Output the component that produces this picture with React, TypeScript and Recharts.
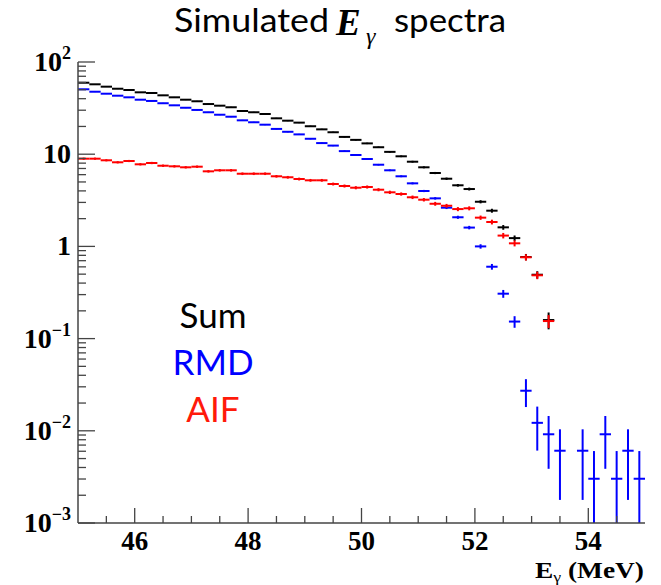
import React from "react";
import { ScatterChart, Scatter, XAxis, YAxis, ErrorBar } from "recharts";

// bin centres (0.2 MeV bins from 45 to 55)
const binCenters = [
  45.1, 45.3, 45.5, 45.7, 45.9, 46.1, 46.3, 46.5, 46.7, 46.9,
  47.1, 47.3, 47.5, 47.7, 47.9, 48.1, 48.3, 48.5, 48.7, 48.9,
  49.1, 49.3, 49.5, 49.7, 49.9, 50.1, 50.3, 50.5, 50.7, 50.9,
  51.1, 51.3, 51.5, 51.7, 51.9, 52.1, 52.3, 52.5, 52.7, 52.9,
  53.1, 53.3, 53.5, 53.7, 53.9, 54.1, 54.3, 54.5, 54.7, 54.9,
];
const binHalfWidth = 0.1;

// Sum
const sumValues = [
  59.6, 57.3, 54.0, 51.3, 49.7, 46.9, 46.1, 43.5, 41.4, 39.0,
  37.5, 35.0, 33.6, 32.3, 29.4, 28.5, 27.3, 24.5, 23.1, 22.0,
  20.1, 18.6, 17.3, 15.4, 14.3, 13.1, 11.9, 10.6, 9.49, 8.29,
  7.21, 6.25, 5.42, 4.6, 4.19, 3.05, 2.44, 1.61, 1.23, 0.767,
  0.493, 0.159,
];
const sumErrors = [
  0.46, 0.45, 0.44, 0.43, 0.42, 0.4, 0.41, 0.4, 0.39, 0.37,
  0.37, 0.35, 0.36, 0.35, 0.34, 0.33, 0.32, 0.31, 0.3, 0.29,
  0.28, 0.27, 0.25, 0.25, 0.24, 0.23, 0.22, 0.21, 0.2, 0.19,
  0.18, 0.17, 0.16, 0.15, 0.15, 0.12, 0.12, 0.095, 0.083, 0.061,
  0.045, 0.033,
];

// RMD
const rmdValues = [
  50.6, 47.6, 45.3, 43.1, 41.4, 39.0, 37.8, 35.7, 33.9, 31.9,
  30.2, 28.5, 26.8, 25.5, 23.3, 22.2, 20.9, 18.8, 17.5, 16.4,
  14.7, 13.2, 12.4, 10.8, 9.8, 8.87, 7.69, 6.69, 5.76, 4.83,
  3.99, 3.32, 2.63, 2.07, 1.6, 1.0, 0.602, 0.307, 0.153, 0.0272,
  0.0122, 0.00917, 0.00608, 0, 0.00608, 0.00302, 0.00917, 0.00302, 0.00608, 0.00302,
];
const rmdErrors = [
  0.39, 0.38, 0.37, 0.36, 0.35, 0.34, 0.34, 0.33, 0.32, 0.31,
  0.3, 0.29, 0.29, 0.28, 0.27, 0.26, 0.25, 0.24, 0.23, 0.22,
  0.21, 0.2, 0.19, 0.18, 0.17, 0.16, 0.15, 0.14, 0.13, 0.12,
  0.11, 0.1, 0.09, 0.08, 0.07, 0.055, 0.043, 0.03, 0.022, 0.0091,
  0.0061, 0.0053, 0.0043, 0, 0.0043, 0.00301, 0.0053, 0.00301, 0.0043, 0.00301,
];

// AIF
const aifValues = [
  8.94, 8.94, 8.59, 8.17, 8.44, 7.77, 8.03, 7.5, 7.39, 7.21,
  7.32, 6.52, 6.69, 6.69, 6.14, 6.14, 6.14, 5.76, 5.62, 5.38,
  5.21, 5.21, 4.75, 4.52, 4.33, 4.41, 4.12, 3.86, 3.7, 3.41,
  3.21, 2.9, 2.76, 2.54, 2.59, 2.05, 1.84, 1.31, 1.08, 0.762,
  0.486, 0.155,
];
const aifErrors = [
  0.24, 0.24, 0.23, 0.23, 0.23, 0.22, 0.23, 0.22, 0.22, 0.21,
  0.22, 0.2, 0.21, 0.21, 0.2, 0.2, 0.2, 0.19, 0.19, 0.19,
  0.18, 0.18, 0.17, 0.17, 0.17, 0.17, 0.16, 0.16, 0.15, 0.15,
  0.14, 0.14, 0.13, 0.13, 0.13, 0.11, 0.11, 0.09, 0.08, 0.06,
  0.045, 0.025,
];

const xTicks = [
  45.5, 46, 46.5, 47, 47.5, 48, 48.5, 49, 49.5, 50,
  50.5, 51, 51.5, 52, 52.5, 53, 53.5, 54, 54.5,
];
const xLabels = [46, 48, 50, 52, 54];
const yTicks = [
  0.001, 0.002, 0.003, 0.004, 0.005, 0.006, 0.007, 0.008, 0.009,
  0.01, 0.02, 0.03, 0.04, 0.05, 0.06, 0.07, 0.08, 0.09,
  0.1, 0.2, 0.3, 0.4, 0.5, 0.6, 0.7, 0.8, 0.9,
  1, 2, 3, 4, 5, 6, 7, 8, 9,
  10, 20, 30, 40, 50, 60, 70, 80, 90, 100,
];
const yMin = 0.001;
const yMax = 100;

const legendItems = [
  { name: "Sum", color: "#000000" },
  { name: "RMD", color: "#0000ff" },
  { name: "AIF", color: "#ff1a0a" },
];

const serif = "'Liberation Serif', 'Times New Roman', serif";
const sans = "Lato, 'Open Sans', sans-serif";
const frame = "#444";

// error bars that would run below the axis are cut at the frame
function buildSeries(values: number[], errors: number[]) {
  return values
    .map((v, i) => ({
      x: binCenters[i],
      y: v,
      ex: binHalfWidth,
      ey: [Math.min(errors[i], v - yMin), errors[i]],
    }))
    .filter((d) => d.y > 0);
}

const isDecade = (v: number) => {
  const l = Math.log10(v);
  return Math.abs(l - Math.round(l)) < 1e-9;
};

const BottomTick = (props: any) => {
  const { x, y, payload } = props;
  const v = payload.value;
  const major = xLabels.includes(v);
  const axisY = y - 10;
  return (
    <g>
      <line x1={x} x2={x} y1={axisY} y2={axisY - (major ? 15 : 7)} stroke={frame} strokeWidth={1.3} />
      {major && (
        <text x={x} y={axisY + 27} textAnchor="middle" fontFamily={serif} fontWeight="bold" fontSize={27} fill="#000">
          {v}
        </text>
      )}
    </g>
  );
};

const TopTick = (props: any) => {
  const { x, y, payload } = props;
  const major = xLabels.includes(payload.value);
  return <line x1={x} x2={x} y1={y} y2={y + (major ? 14 : 7)} stroke={frame} strokeWidth={1.3} />;
};

const LeftTick = (props: any) => {
  const { x, y, payload } = props;
  const v = payload.value;
  const major = isDecade(v);
  const axisX = x + 7;
  const exp = Math.round(Math.log10(v));
  let label: React.ReactNode = null;
  if (major) {
    if (exp === 0) label = "1";
    else if (exp === 1) label = "10";
    else
      label = (
        <>
          10
          <tspan dy={-12} fontSize={18}>
            {exp < 0 ? "\u2212" + -exp : exp}
          </tspan>
        </>
      );
  }
  return (
    <g>
      <line x1={axisX} x2={axisX + (major ? 17 : 8)} y1={y} y2={y} stroke={frame} strokeWidth={1.3} />
      {major && (
        <text x={x} y={y + 9} textAnchor="end" fontFamily={serif} fontWeight="bold" fontSize={28} fill="#000">
          {label}
        </text>
      )}
    </g>
  );
};

const RightTick = (props: any) => {
  const { x, y, payload } = props;
  const major = isDecade(payload.value);
  return <line x1={x} x2={x - (major ? 18 : 9)} y1={y} y2={y} stroke={frame} strokeWidth={1.3} />;
};

const hidden = () => <g />;

export default function App() {
  const series = [
    { key: "sum", data: buildSeries(sumValues, sumErrors), color: "#000000" },
    { key: "rmd", data: buildSeries(rmdValues, rmdErrors), color: "#0000ff" },
    { key: "aif", data: buildSeries(aifValues, aifErrors), color: "#ff0000" },
  ];

  return (
    <div style={{ position: "absolute", left: 0, top: 0, width: 661, height: 585, background: "#fff" }}>
      <ScatterChart width={661} height={585} margin={{ top: 62, right: 16, left: 0, bottom: 0 }}>
        <XAxis
          xAxisId="bottom"
          dataKey="x"
          type="number"
          domain={[45, 55]}
          allowDataOverflow
          ticks={xTicks}
          interval={0}
          height={62}
          tickSize={0}
          tickMargin={10}
          tick={<BottomTick />}
          axisLine={{ stroke: frame, strokeWidth: 1.5 }}
        />
        <XAxis
          xAxisId="top"
          orientation="top"
          type="number"
          domain={[45, 55]}
          allowDataOverflow
          ticks={xTicks}
          interval={0}
          height={0}
          tickSize={0}
          tickMargin={0}
          tick={<TopTick />}
          axisLine={{ stroke: frame, strokeWidth: 1.5 }}
        />
        <YAxis
          yAxisId="left"
          dataKey="y"
          type="number"
          scale="log"
          domain={[yMin, yMax]}
          allowDataOverflow
          ticks={yTicks}
          interval={0}
          width={78}
          tickSize={0}
          tickMargin={7}
          tick={<LeftTick />}
          axisLine={{ stroke: frame, strokeWidth: 1.5 }}
        />
        <YAxis
          yAxisId="right"
          orientation="right"
          type="number"
          scale="log"
          domain={[yMin, yMax]}
          allowDataOverflow
          ticks={yTicks}
          interval={0}
          width={0}
          tickSize={0}
          tickMargin={0}
          tick={<RightTick />}
          axisLine={{ stroke: frame, strokeWidth: 1.5 }}
        />
        {series.map((s) => (
          <Scatter
            key={s.key}
            xAxisId="bottom"
            yAxisId="left"
            data={s.data}
            fill={s.color}
            shape={hidden}
            isAnimationActive={false}
          >
            <ErrorBar dataKey="ex" direction="x" width={0} stroke={s.color} strokeWidth={2} isAnimationActive={false} />
            <ErrorBar dataKey="ey" direction="y" width={0} stroke={s.color} strokeWidth={2} isAnimationActive={false} />
          </Scatter>
        ))}
      </ScatterChart>

      <svg width={661} height={585} style={{ position: "absolute", left: 0, top: 0, pointerEvents: "none" }}>
        {/* title */}
        <text x={174} y={32} fontFamily={sans} fontSize={33} fill="#000" textLength={155} lengthAdjust="spacingAndGlyphs">
          Simulated
        </text>
        <text x={336} y={35} fontFamily={serif} fontStyle="italic" fontWeight="bold" fontSize={37} fill="#000">
          E
        </text>
        <text x={366} y={44} fontFamily={serif} fontStyle="italic" fontSize={24} fill="#000">
          γ
        </text>
        <text x={394} y={32} fontFamily={sans} fontSize={33} fill="#000" textLength={112} lengthAdjust="spacingAndGlyphs">
          spectra
        </text>

        {/* legend */}
        {legendItems.map((item, i) => (
          <text key={item.name} x={213} y={328 + i * 47} textAnchor="middle" fontFamily={sans} fontSize={35} fill={item.color}>
            {item.name}
          </text>
        ))}

        {/* x axis title */}
        <text
          x={535}
          y={578}
          fontFamily={serif}
          fontWeight="bold"
          fontSize={23}
          fill="#000"
          textLength={109}
          lengthAdjust="spacingAndGlyphs"
        >
          E
          <tspan dy={4} fontSize={15} fontWeight="normal">γ</tspan>
          <tspan dy={-4}>{"\u00a0(MeV)"}</tspan>
        </text>
      </svg>
    </div>
  );
}
